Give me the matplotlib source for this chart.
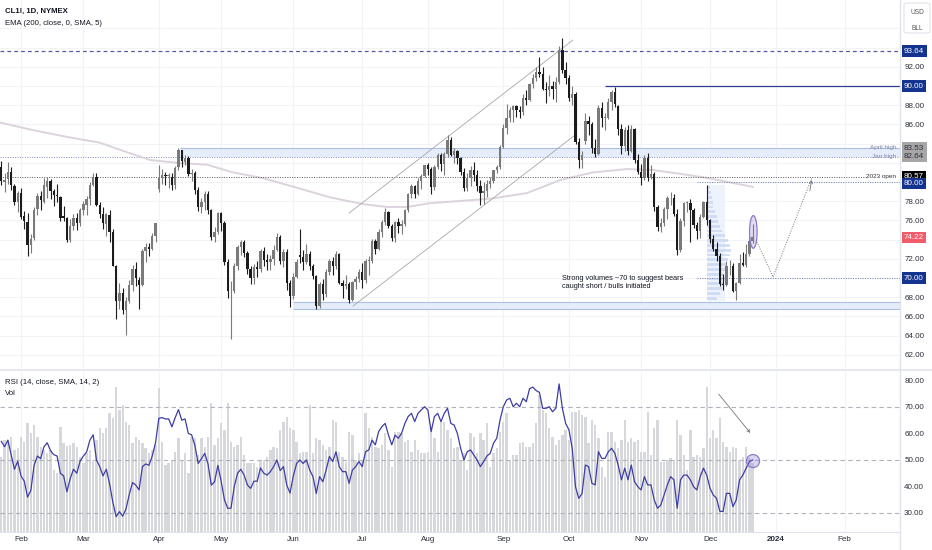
import numpy as np
import matplotlib
matplotlib.use('Agg')
import matplotlib.pyplot as plt
from matplotlib import font_manager
from matplotlib.patches import Ellipse, Rectangle, FancyBboxPatch
from matplotlib.transforms import blended_transform_factory
from matplotlib.lines import Line2D

names = {f.name for f in font_manager.fontManager.ttflist}
FONT = 'Liberation Sans' if 'Liberation Sans' in names else 'DejaVu Sans'
NARROW = 'Liberation Sans Narrow' if 'Liberation Sans Narrow' in names else FONT
plt.rcParams['font.family'] = [FONT, 'DejaVu Sans']

# ---------------- data (daily bars, 24 Jan 2023 .. 20 Dec 2023) ----------------
opens = [
 81.6, 80.0, 80.3, 81.0, 79.6, 77.9, 78.9, 76.5, 75.8, 73.4,
 74.2, 77.2, 78.5, 77.9, 79.5, 80.1, 79.1, 78.6, 78.4, 76.5,
 76.3, 74.0, 75.4, 76.3, 75.7, 77.1, 77.6, 78.2, 79.7, 80.5,
 77.6, 76.7, 75.6, 76.6, 74.8, 71.3, 67.6, 68.4, 66.7, 67.6,
 69.3, 70.9, 69.8, 69.3, 72.8, 73.2, 73.0, 74.4, 79.3, 80.4,
 80.7, 80.6, 80.5, 79.7, 81.6, 83.3, 82.1, 82.5, 80.8, 80.9,
 79.2, 77.4, 77.9, 78.8, 77.1, 74.3, 74.8, 76.8, 75.7, 71.7,
 68.6, 68.6, 71.3, 73.2, 73.7, 72.6, 70.9, 70.0, 71.1, 70.9,
 72.8, 71.9, 71.7, 72.0, 72.9, 74.3, 71.8, 72.7, 69.5, 68.1,
 70.1, 72.4, 72.2, 71.7, 72.5, 71.3, 70.2, 67.1, 69.4, 68.3,
 70.6, 71.8, 71.2, 72.5, 69.5, 69.2, 69.4, 67.7, 69.6, 69.9,
 70.6, 69.8, 71.8, 71.8, 73.9, 73.0, 74.8, 75.8, 76.9, 75.4,
 74.2, 75.8, 75.4, 75.6, 77.1, 78.7, 79.6, 78.8, 80.1, 80.6,
 81.8, 81.4, 79.5, 81.6, 82.8, 81.9, 82.9, 84.4, 82.8, 83.2,
 82.5, 81.0, 79.4, 80.4, 81.3, 80.7, 79.6, 78.9, 79.1, 79.8,
 80.1, 81.2, 81.6, 83.6, 85.6, 86.7, 87.5, 87.9, 87.5, 87.3,
 88.8, 88.5, 90.2, 90.8, 91.5, 91.2, 89.7, 89.6, 90.0, 89.7,
 90.4, 93.7, 91.7, 90.8, 88.8, 89.2, 84.2, 82.3, 84.3, 86.4,
 86.0, 83.5, 82.9, 87.7, 86.7, 86.7, 88.3, 89.4, 87.9, 85.5,
 83.7, 85.4, 83.2, 85.5, 82.3, 81.0, 80.4, 82.5, 80.5, 80.8,
 77.4, 75.3, 75.7, 77.2, 78.3, 78.3, 76.7, 72.9, 75.9, 77.8,
 77.8, 77.1, 75.5, 74.9, 76.4, 77.9, 76.0, 74.1, 73.0, 72.3,
 69.4, 69.3, 71.2, 71.3, 68.6, 69.5, 71.6, 71.4, 72.5, 73.9]
highs = [
 82.2, 80.9, 82.1, 81.6, 79.8, 79.1, 79.4, 77.0, 76.8, 74.6,
 77.4, 78.9, 79.1, 80.4, 80.5, 80.3, 79.3, 79.8, 78.5, 77.5,
 76.4, 76.1, 76.7, 76.8, 77.3, 78.0, 78.5, 80.0, 80.9, 80.9,
 77.9, 77.4, 76.8, 77.1, 75.1, 71.4, 69.5, 69.0, 68.0, 69.8,
 71.4, 71.7, 70.1, 73.0, 73.6, 73.6, 74.7, 75.7, 81.8, 81.4,
 81.0, 80.9, 80.9, 81.7, 83.5, 83.3, 82.8, 82.7, 81.4, 81.1,
 79.5, 78.3, 79.1, 79.1, 77.2, 75.3, 76.9, 76.9, 75.9, 72.0,
 69.7, 71.6, 73.4, 74.0, 74.0, 72.8, 71.3, 71.5, 71.8, 73.0,
 73.2, 72.5, 72.4, 73.4, 74.7, 74.5, 73.0, 73.0, 69.8, 70.5,
 72.0, 75.1, 72.9, 73.5, 72.8, 71.5, 70.3, 69.6, 69.9, 70.9,
 72.0, 72.2, 72.8, 72.6, 69.8, 70.3, 69.6, 69.7, 70.2, 70.9,
 71.6, 72.0, 72.3, 74.1, 74.1, 75.1, 76.0, 77.3, 77.0, 75.6,
 75.9, 76.2, 76.0, 77.2, 78.9, 79.8, 79.7, 80.4, 80.8, 81.8,
 82.0, 81.6, 81.8, 83.0, 83.0, 83.1, 84.9, 84.7, 83.5, 83.3,
 82.6, 81.5, 80.9, 81.7, 82.1, 81.2, 80.2, 80.0, 80.2, 80.5,
 81.3, 81.8, 83.9, 86.0, 88.1, 87.8, 88.0, 88.0, 87.9, 89.2,
 89.6, 90.3, 91.2, 92.0, 93.0, 92.0, 90.4, 91.1, 90.5, 90.9,
 94.2, 95.0, 92.5, 91.1, 90.0, 89.4, 84.6, 83.2, 87.2, 86.9,
 86.2, 84.5, 88.0, 88.3, 87.2, 88.8, 89.6, 89.9, 88.0, 86.0,
 85.7, 85.9, 85.9, 85.6, 82.9, 81.9, 82.8, 83.0, 81.8, 81.0,
 77.6, 76.2, 77.4, 78.5, 79.0, 78.7, 77.2, 76.3, 77.9, 78.0,
 78.2, 77.3, 75.8, 76.7, 78.0, 79.7, 76.1, 74.5, 73.8, 72.6,
 70.4, 71.8, 71.9, 71.6, 69.6, 72.5, 72.7, 73.5, 74.4, 75.6]
lows = [
 79.7, 79.0, 79.8, 79.2, 77.6, 76.9, 76.1, 75.1, 72.3, 72.6,
 74.0, 76.6, 77.1, 77.8, 78.3, 78.2, 77.5, 77.9, 75.9, 75.9,
 73.8, 73.8, 75.0, 75.0, 75.4, 76.6, 76.6, 77.6, 79.6, 77.5,
 76.2, 75.1, 74.4, 73.8, 71.3, 65.7, 66.8, 66.2, 64.1, 67.4,
 68.6, 69.2, 66.8, 69.2, 71.7, 72.3, 72.9, 73.7, 79.0, 79.8,
 79.7, 79.4, 79.2, 79.3, 81.2, 81.6, 81.8, 80.6, 80.1, 78.8,
 77.0, 76.8, 77.1, 76.7, 74.0, 73.8, 74.6, 74.9, 71.4, 67.9,
 63.6, 68.4, 70.8, 72.4, 72.2, 70.4, 69.4, 69.4, 70.1, 70.6,
 71.2, 70.8, 70.8, 71.4, 72.8, 71.5, 71.1, 68.7, 67.0, 67.8,
 70.0, 71.6, 70.8, 71.5, 70.8, 69.9, 66.8, 66.9, 67.7, 68.0,
 70.3, 70.3, 70.9, 69.4, 67.9, 68.9, 67.4, 67.6, 68.9, 69.6,
 69.0, 69.5, 70.3, 71.6, 72.5, 72.9, 74.3, 75.5, 75.2, 73.9,
 73.8, 74.7, 74.6, 75.4, 76.9, 78.3, 78.3, 78.6, 79.3, 80.5,
 80.7, 78.8, 79.2, 81.4, 81.1, 80.7, 82.6, 82.7, 82.0, 81.9,
 80.7, 79.1, 79.1, 79.6, 80.1, 79.1, 77.6, 77.7, 78.4, 79.4,
 79.9, 80.9, 81.4, 83.5, 85.0, 86.2, 86.3, 86.8, 86.7, 87.0,
 88.0, 88.4, 89.8, 90.5, 90.9, 89.6, 88.2, 89.0, 88.6, 88.3,
 90.2, 91.4, 90.2, 88.4, 88.0, 84.0, 81.5, 81.5, 84.0, 84.9,
 83.0, 82.6, 82.8, 85.7, 85.4, 86.6, 87.5, 87.8, 84.9, 82.9,
 83.2, 82.8, 83.1, 82.0, 80.8, 79.7, 80.2, 80.1, 80.3, 77.0,
 74.9, 74.8, 75.4, 76.1, 77.6, 76.5, 72.4, 72.7, 75.4, 76.9,
 73.8, 75.2, 74.1, 74.2, 76.3, 75.5, 73.6, 72.8, 71.8, 69.2,
 68.8, 69.2, 70.3, 68.5, 67.7, 69.4, 71.3, 71.1, 72.3, 73.6]
closes = [
 80.1, 80.2, 81.0, 79.7, 77.9, 78.9, 76.4, 75.9, 73.4, 74.1,
 77.1, 78.5, 78.1, 79.7, 80.1, 79.1, 78.6, 78.5, 76.3, 76.2,
 74.0, 75.4, 76.3, 75.7, 77.1, 77.7, 78.2, 79.7, 80.5, 77.6,
 76.7, 75.7, 76.7, 74.8, 71.3, 67.6, 68.4, 66.7, 67.6, 69.3,
 70.9, 70.0, 69.3, 72.8, 73.2, 73.0, 74.4, 75.7, 80.4, 80.7,
 80.6, 80.7, 79.7, 81.5, 83.3, 82.2, 82.5, 80.8, 80.9, 79.2,
 77.4, 77.9, 78.8, 77.1, 74.3, 74.8, 76.8, 75.7, 71.7, 68.6,
 68.6, 71.3, 73.2, 73.7, 72.6, 70.9, 70.0, 71.1, 70.9, 72.8,
 71.9, 71.7, 72.0, 72.9, 74.3, 71.8, 72.7, 69.5, 68.1, 70.1,
 71.7, 72.2, 71.7, 72.5, 71.3, 70.2, 67.1, 69.4, 68.3, 70.6,
 71.8, 71.2, 72.5, 69.5, 69.2, 69.4, 67.7, 69.6, 69.9, 70.6,
 69.8, 71.8, 71.8, 73.9, 73.0, 74.8, 75.8, 76.9, 75.4, 74.2,
 75.8, 75.4, 75.6, 77.1, 78.7, 79.6, 78.8, 80.1, 80.6, 81.8,
 81.4, 79.5, 81.6, 82.8, 81.9, 82.9, 84.4, 82.8, 83.2, 82.5,
 81.0, 79.4, 80.4, 81.3, 80.7, 79.6, 78.9, 79.1, 79.8, 80.1,
 81.2, 81.6, 83.6, 85.6, 86.7, 87.5, 87.9, 87.5, 87.3, 88.8,
 88.5, 90.2, 90.8, 91.5, 91.2, 89.7, 89.6, 90.0, 89.7, 90.4,
 93.7, 91.7, 90.8, 88.8, 89.2, 84.2, 82.3, 82.8, 86.4, 86.0,
 83.5, 82.9, 87.7, 86.7, 86.7, 88.3, 89.4, 88.1, 85.5, 83.7,
 85.4, 83.2, 85.5, 82.3, 81.0, 80.4, 82.5, 80.5, 80.8, 77.4,
 75.3, 75.7, 77.2, 78.3, 78.3, 76.7, 72.9, 75.9, 77.8, 77.8,
 77.1, 75.5, 74.9, 76.4, 77.9, 76.0, 74.1, 73.0, 72.3, 69.4,
 69.3, 71.2, 71.3, 68.6, 69.5, 71.6, 71.4, 72.5, 73.9, 74.22]
volume_k = [
 301, 368, 368, 381, 328, 335, 381, 361, 435, 395,
 428, 381, 341, 328, 315, 328, 248, 235, 421, 355, 345,
 348, 355, 341, 301, 275, 315, 328, 288, 368, 415,
 395, 415, 475, 455, 581, 488, 508, 441, 428, 355,
 381, 368, 355, 335, 315, 328, 348, 575, 361, 268,
 275, 288, 321, 375, 288, 315, 235, 381, 375, 308,
 375, 341, 381, 515, 348, 375, 435, 408, 515, 361,
 341, 348, 381, 308, 275, 275, 275, 261, 288, 288, 300,
 328, 341, 335, 408, 441, 461, 415, 408, 361, 315,
 321, 321, 508, 315, 375, 368, 348, 328, 341, 448,
 441, 321, 301, 281, 401, 388, 288, 315, 288, 475,
 415, 381, 341, 335, 348, 395, 328, 261, 401, 401,
 395, 361, 368, 321, 368, 328, 315, 315, 321, 421,
 375, 321, 448, 441, 408, 375, 335, 341, 288, 315,
 248, 395, 381, 315, 395, 368, 435, 261, 315, 335,
 401, 441, 475, 288, 308, 308, 355, 361, 341, 341,
 355, 435, 548, 488, 475, 415, 381, 348, 368, 388,
 408, 368, 481, 481, 488, 470, 461, 355, 448, 428, 375,
 261, 221, 401, 401, 361, 335, 368, 448, 361, 375,
 361, 368, 321, 321, 481, 308, 415, 448, 281, 281,
 288, 295, 288, 448, 388, 308, 248, 408, 301, 308,
 301, 335, 581, 375, 408, 375, 455, 361, 340,
 321, 341, 335, 288, 301, 339, 295, 275]
rsi = [
 57, 55, 57.5, 52, 46.5, 49.5, 44, 42, 36, 38.5,
 48, 51.5, 50.5, 55, 56.5, 53.5, 52, 51.5, 45, 44,
 38, 43, 46.5, 45, 49.5, 51.5, 53, 57.5, 59.5, 50,
 47.5, 44, 46.5, 41, 34, 28.6, 30.5, 28.8, 31.5, 37,
 41.5, 40.5, 38.7, 47.5, 48.5, 48, 51.5, 56.5, 65.7, 66,
 65.5, 65.5, 62.5, 66, 69, 65, 65.5, 60, 59.5, 55.5,
 48.7, 50.5, 52.5, 48.5, 40.5, 41.8, 48, 42, 35, 31.8,
 31.8, 40, 45, 46.5, 44.3, 40.6, 39.3, 42, 42, 47,
 45, 44.3, 45.6, 47.5, 50, 46, 47.5, 40.5, 37.5, 44,
 48.7, 50, 48.7, 50, 46.2, 43.7, 37.4, 43.7, 41.8, 46.2,
 51.3, 49.4, 53.1, 47.5, 45.6, 45.6, 41.2, 46.2, 47.5, 49.4,
 47.5, 53.1, 53.8, 57.5, 55.7, 60.7, 62.6, 63.8, 59.4, 55.7,
 59.4, 58.2, 60.1, 63.8, 66.4, 67.6, 64.5, 67.6, 68.9, 70.1,
 68.9, 60.7, 66.4, 67.6, 64.5, 67.6, 69.5, 63.8, 63.2, 60,
 54.4, 50, 53.1, 53.8, 51.9, 50, 47.5, 49.4, 51.5, 52.5,
 56.3, 58.2, 65.1, 70.1, 72.6, 73.3, 70.1, 71.4, 70.1, 73.3,
 72, 76.9, 77.5, 76.2, 75.5, 69.5, 69.5, 70.1, 68.2, 69.5,
 78.7, 69.5, 63.8, 61.4, 54.4, 39.9, 35.5, 37.4, 48.1, 47.5,
 41.2, 40.6, 53.1, 50.6, 50.6, 53.1, 54.4, 52.5, 48.1, 42.5,
 46.9, 42.5, 48.1, 41.8, 39.9, 38.7, 43.7, 40.6, 40.6, 34.9,
 31.8, 33, 36.8, 40.6, 43.7, 42.5, 31.8, 42.5, 44.3, 44.3,
 42.5, 39.9, 38.7, 43.7, 46.9, 44.3, 39.3, 36.8, 35.5, 30.6,
 30.6, 37.4, 37.4, 32.4, 35, 42.5, 44.3, 46.9, 49.4, 50]
# EMA(200): (bar index, value)
ema_bar = [-0.4, 9.7, 20, 30, 38.3, 45.3, 53.5, 62.7, 70.6, 79.8, 90.1, 100.2, 110.2,
           117.6, 123.7, 130.7, 142.9, 149.9, 160.2, 170.3, 180.3, 190.7, 198.6, 205.9, 213.9, 229]
ema_val = [86.2, 85.4, 84.7, 84.1, 83.1, 82.3, 82.0, 81.8, 81.0, 80.4, 79.4, 78.4, 77.7,
           77.4, 77.4, 77.8, 78.1, 78.3, 78.85, 80.2, 81.0, 81.35, 81.25, 80.9, 80.5, 79.5]
month_bar = [6, 25, 48, 67, 89, 110, 130, 153, 173, 195, 216, 236, 257]
month_lbl = ['Feb', 'Mar', 'Apr', 'May', 'Jun', 'Jul', 'Aug', 'Sep', 'Oct', 'Nov', 'Dec', '2024', 'Feb']
price_ticks = [62, 64, 66, 68, 72, 76, 78, 86, 88, 92]
rsi_ticks = [30, 40, 50, 60, 70, 80]
# volume profile rows (price level, length in bars)
prof_price = [67.9, 68.4, 68.9, 69.4, 69.9, 70.4, 70.9, 71.4, 71.9, 72.4, 72.9, 73.4,
              73.9, 74.4, 74.9, 75.4, 75.9, 76.4, 76.9, 77.4, 77.9, 78.4, 78.9, 79.4]
prof_len = [3.0, 4.0, 4.5, 5.0, 4.5, 5.0, 5.5, 6.0, 6.5, 7.0, 7.5, 7.0,
            6.5, 5.5, 4.5, 4.0, 3.5, 3.0, 2.5, 2.0, 1.8, 1.5, 1.2, 1.0]

opens = np.array(opens); highs = np.array(highs); lows = np.array(lows); closes = np.array(closes)
idx = np.arange(len(closes))

# ---------------- figure ----------------
W, H = 932, 550
fig = plt.figure(figsize=(W / 100, H / 100), dpi=100)
fig.patch.set_facecolor('white')

def fr(x0, y0, x1, y1):
    return [x0 / W, 1 - y1 / H, (x1 - x0) / W, (y1 - y0) / H]

XMIN, XMAX = -0.4, 273.9
ax = fig.add_axes(fr(0, 0, 900, 368))
vax = fig.add_axes(fr(0, 372, 900, 532))
rax = fig.add_axes(fr(0, 372, 900, 532))
GRID = '#f2f3f7'
TXT = '#2a2e39'
LBL = 5.8

# ---- main price pane ----
ax.set_xlim(XMIN, XMAX)
ax.set_ylim(60.625, 98.96)
for s in ax.spines.values():
    s.set_visible(False)
for m in month_bar:
    ax.axvline(m, color=GRID, lw=0.8, zorder=0)
for p in range(62, 98, 2):
    ax.axhline(p, color=GRID, lw=0.8, zorder=0)
ax.yaxis.tick_right()
ax.set_yticks(price_ticks)
ax.set_yticklabels([f'{p:.2f}' for p in price_ticks], family=NARROW)
ax.tick_params(axis='y', length=0, pad=3, labelsize=LBL, labelcolor=TXT)
ax.set_xticks([])

# zones
zx0 = 54.5
ax.add_patch(Rectangle((zx0, 82.64), XMAX - zx0, 83.53 - 82.64, fc='#e6edfa', ec='none', zorder=0.5))
ax.hlines(83.53, zx0, XMAX, color='#aebfe6', lw=0.8, zorder=0.6)
ax.hlines(82.64, XMIN, XMAX, color='#7f8cc2', lw=0.7, ls=(0, (1, 1.5)), zorder=0.6)
bx0 = 89
ax.add_patch(Rectangle((bx0, 66.75), XMAX - bx0, 0.7, fc='#e6edfa', ec='none', zorder=0.5))
ax.hlines([66.75, 67.45], bx0, XMAX, color='#aebfe6', lw=0.8, zorder=0.6)

# volume profile
ax.add_patch(Rectangle((215.0, 67.6), 5.5, 12.1, fc='#edf2fb', ec='none', zorder=0.5))
ax.barh(prof_price, prof_len, left=215.0, height=0.28, color='#c9d7f1', alpha=0.8, lw=0, zorder=0.6)

# EMA
ax.plot(ema_bar, ema_val, color='#dcd3dc', lw=1.4, zorder=1)

# level lines
ax.axhline(93.64, color='#5558a8', lw=0.9, ls=(0, (3, 2.5)), zorder=1)
ax.hlines(90.0, 184, XMAX, color='#2d3f8e', lw=0.9, zorder=1)
ax.hlines(80.57, XMIN, 263.5, color='#555555', lw=0.7, ls=(0, (1, 1.5)), zorder=1)
ax.hlines([80.0, 70.0], 212, XMAX, color='#6f7fb8', lw=0.7, ls=(0, (1, 1.5)), zorder=1)

# channel lines
ax.plot([106.0, 174.2], [76.77, 94.79], color='#a8a8a8', lw=0.6, zorder=1)
ax.plot([107.2, 174.9], [67.08, 84.9], color='#a8a8a8', lw=0.6, zorder=1)

# candles
up = closes >= opens
cols = np.where(up, '#7a7a7a', '#1c1c1c')
ax.vlines(idx, lows, highs, colors=cols, lw=0.8, zorder=2)
body_b = np.minimum(opens, closes)
body_h = np.maximum(np.abs(closes - opens), 0.08)
ax.bar(idx, body_h, bottom=body_b, width=0.72, color=cols, lw=0, zorder=3)

# projection path
ax.plot([230.3, 235.2, 247.1], [73.75, 70.1, 80.5], color='#777777', lw=0.7, ls=(0, (1, 1.5)), zorder=2)
ax.annotate('', xy=(247.1, 80.5), xytext=(246.3, 78.8),
            arrowprops=dict(arrowstyle='->', color='#777777', lw=0.6, mutation_scale=5), zorder=2)
ax.add_patch(Ellipse((229.2, 74.8), 2.3, 3.4, fc=(0.55, 0.45, 0.82, 0.25), ec='#8c7cc4', lw=0.9, zorder=4))

# texts in main pane
ax.text(170.9, 69.5, 'Strong volumes ~70 to suggest bears\ncaught short / bulls initiated',
        fontsize=5.3, ha='left', va='center', color='#131722', linespacing=1.15, zorder=5)
ax.text(272.7, 83.57, 'April high', ha='right', va='center', fontsize=4.6, color='#7c84a6', zorder=5)
ax.text(272.7, 82.7, 'Jan high', ha='right', va='center', fontsize=4.6, color='#7c84a6', zorder=5)
ax.text(272.7, 80.6, '2023 open', ha='right', va='center', fontsize=4.6, color='#333333', zorder=5)

def tag(axis, y, s, bg, fg='white'):
    tr = blended_transform_factory(axis.transAxes, axis.transData)
    axis.text(1.0 + 4 / 900, y, s, transform=tr, ha='left', va='center', fontsize=LBL,
              family=NARROW, color=fg, clip_on=False, zorder=10,
              bbox=dict(boxstyle='square,pad=0.28', fc=bg, ec='none'))

NAVY = '#13338f'
tag(ax, 93.64, '93.64', NAVY)
tag(ax, 90.00, '90.00', NAVY)
tag(ax, 83.53, '83.53', '#a6a6a6', '#2a2e39')
tag(ax, 82.64, '82.64', '#a6a6a6', '#2a2e39')
tag(ax, 80.57, '80.57', '#000000')
tag(ax, 79.86, '80.00', NAVY)
tag(ax, 74.22, '74.22', '#f35a6a')
tag(ax, 70.00, '70.00', NAVY)

# ---- volume + RSI pane ----
vax.set_xlim(XMIN, XMAX)
vax.set_ylim(0, 640)
vax.axis('off')
for m in month_bar:
    vax.axvline(m, color=GRID, lw=0.8, zorder=0)
vax.bar(idx, volume_k, width=0.72, color='#d6d8dc', lw=0, zorder=1)

rax.patch.set_alpha(0)
rax.set_xlim(XMIN, XMAX)
rax.set_ylim(22.83, 83.2)
for s in rax.spines.values():
    s.set_visible(False)
for lv in (70, 50, 30):
    rax.axhline(lv, color='#b0b3bc', lw=0.8, ls=(0, (4, 3)), zorder=1)
rax.plot(idx, rsi, color='#3d3da3', lw=0.9, zorder=3)
rax.yaxis.tick_right()
rax.set_yticks(rsi_ticks)
rax.set_yticklabels([f'{v:.2f}' for v in rsi_ticks], family=NARROW)
rax.tick_params(axis='y', length=0, pad=3, labelsize=LBL, labelcolor=TXT)
rax.set_xticks(month_bar)
rax.set_xticklabels(month_lbl, family=NARROW)
rax.tick_params(axis='x', length=0, pad=3, labelsize=LBL, labelcolor=TXT)
for t in rax.get_xticklabels():
    if t.get_text() == '2024':
        t.set_fontweight('bold')
rax.annotate('', xy=(228.8, 59.4), xytext=(218.1, 75.7),
             arrowprops=dict(arrowstyle='->', color='#777777', lw=0.6, mutation_scale=5), zorder=4)
rax.add_patch(Ellipse((229.1, 49.6), 4.0, 4.9, fc=(0.55, 0.45, 0.85, 0.3), ec='#8c7cc4', lw=0.9, zorder=4))

# ---- frame lines & headers ----
fig.add_artist(Line2D([900 / W, 900 / W], [0, 1], transform=fig.transFigure, color='#e0e3eb', lw=1))
fig.add_artist(Line2D([0, 1], [1 - 370 / H] * 2, transform=fig.transFigure, color='#e0e3eb', lw=1.2))
fig.add_artist(Line2D([0, 900 / W], [1 - 532 / H] * 2, transform=fig.transFigure, color='#e0e3eb', lw=0.8))
fig.add_artist(FancyBboxPatch((904 / W, 1 - 33 / H), 26 / W, 30 / H, transform=fig.transFigure,
                              boxstyle='round,pad=0,rounding_size=0.004', fc='white', ec='#e0e3eb', lw=0.8))
fig.text(917 / W, 1 - 12 / H, 'USD', ha='center', va='center', fontsize=4.8, color='#555555')
fig.text(917 / W, 1 - 28 / H, 'BLL', ha='center', va='center', fontsize=4.8, color='#555555')

fig.text(5 / W, 1 - 11 / H, 'CL1!, 1D, NYMEX', fontsize=5.6, fontweight='bold', va='center', color='#131722')
fig.text(5 / W, 1 - 23.5 / H, 'EMA (200, close, 0, SMA, 5)', fontsize=5.6, va='center', color='#131722')
fig.text(5 / W, 1 - 382 / H, 'RSI (14, close, SMA, 14, 2)', fontsize=5.6, va='center', color='#131722')
fig.text(5 / W, 1 - 393.5 / H, 'Vol', fontsize=5.6, va='center', color='#131722')

fig.savefig('out.png', dpi=100, facecolor='white')
